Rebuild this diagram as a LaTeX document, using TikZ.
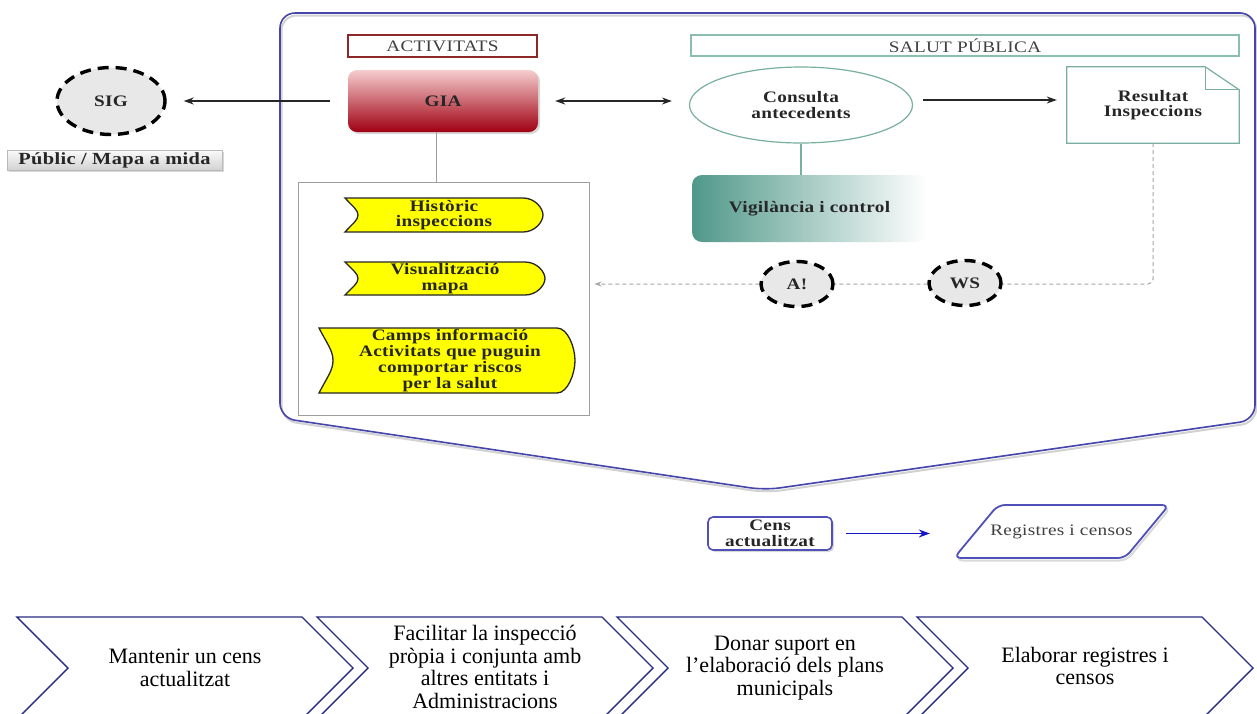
\documentclass[tikz,border=0pt]{standalone}
\usepackage{fontspec}
\setmainfont{Liberation Serif}
\newfontfamily\df{Liberation Serif}[FakeStretch=1.2,LetterSpace=2]
\usetikzlibrary{shapes.geometric,arrows.meta,shadows}
\definecolor{actred}{RGB}{140,40,40}
\definecolor{giatop}{RGB}{245,205,205}
\definecolor{giabot}{RGB}{160,0,18}
\definecolor{salutcol}{RGB}{140,190,175}
\definecolor{conscol}{RGB}{120,175,160}
\definecolor{vigteal}{RGB}{80,152,137}
\definecolor{contblue}{RGB}{70,70,170}
\definecolor{censblue}{RGB}{80,80,185}
\definecolor{arrblue}{RGB}{20,20,200}
\definecolor{chevblue}{RGB}{40,45,130}
\definecolor{ylw}{RGB}{255,255,0}
\newcommand\ysig[6]{%
  \draw[ysty] (#1,#5) -- (#3,#5)
    .. controls ({#3+0.6*(#4-#3)},#5) and (#4,{#5+0.3*(#6-#5)}) .. (#4,{(#5+#6)/2})
    .. controls (#4,{#6-0.3*(#6-#5)}) and ({#3+0.6*(#4-#3)},#6) .. (#3,#6)
    -- (#1,#6)
    .. controls ({#1+0.6*(#2-#1)},{#6-0.25*(#6-#5)}) and (#2,{#6-0.35*(#6-#5)}) .. (#2,{(#5+#6)/2})
    .. controls (#2,{#5+0.35*(#6-#5)}) and ({#1+0.6*(#2-#1)},{#5+0.25*(#6-#5)}) .. (#1,#5) -- cycle;}
\begin{document}
\begin{tikzpicture}[x=1pt,y=-1pt,
  bt/.style={font=\df\bfseries\fontsize{16}{15.5}\selectfont, text=black!85, align=center},
  rt/.style={font=\df\fontsize{16}{15.5}\selectfont, text=black!75, align=center},
  dashell/.style={ellipse, draw=black, line width=3.4pt, dash pattern=on 11pt off 7pt, fill=gray!18, inner sep=0pt, bt},
  conn/.style={draw=black!85, line width=1.3pt, -{Stealth[length=10pt,width=7pt]}},
  ysty/.style={draw=black!85, line width=1.3pt, fill=ylw},
  ct/.style={font=\fontsize{22}{22.5}\selectfont, align=center},
  chev/.style={draw=chevblue, line width=1.4pt, fill=white},
  shd/.style={drop shadow={opacity=0.3, shadow xshift=2pt, shadow yshift=-2pt}}
]
\useasboundingbox (0,0) rectangle (1257,713);
\fill[white] (0,0) rectangle (1257,713);

% container
\draw[gray!35, line width=2pt, rounded corners=15pt, shift={(1.5,2.5)}] (280,13) -- (1255,13) -- (1255,420) -- (765,490) -- (280,418) -- cycle;
\draw[contblue, line width=1.6pt, rounded corners=15pt] (280,13) -- (1255,13) -- (1255,420) -- (765,490) -- (280,418) -- cycle;

% left part
\node[dashell, minimum width=108pt, minimum height=67pt] (sig) at (111,101) {SIG};
\node[bt, font=\df\bfseries\fontsize{17}{17}\selectfont, draw=gray!55, top color=gray!4, bottom color=gray!35, shd, minimum width=215pt, minimum height=20pt, inner sep=0pt] (pub) at (114.5,160) {Públic / Mapa a mida};

% activitats
\node[rt, draw=actred, line width=1.3pt, minimum width=189pt, minimum height=22pt, inner sep=0pt] (act) at (442.5,46) {ACTIVITATS};
\node[bt, rounded corners=9pt, top color=giatop, bottom color=giabot, shd, minimum width=190pt, minimum height=62pt, inner sep=0pt] (gia) at (443,101) {GIA};
\node[draw=gray!75, line width=1pt, minimum width=291pt, minimum height=233pt, inner sep=0pt] (lbox) at (443.5,298.5) {};

\ysig{345}{358}{523}{543}{198}{232}
\node[bt] (his) at (444,215) {Històric\\inspeccions};
\ysig{345}{358}{525}{545}{262}{295}
\node[bt] (vis) at (445,278.5) {Visualització\\mapa};
\ysig{319}{333}{557}{575}{328}{393}
\node[bt, font=\df\bfseries\fontsize{16}{16}\selectfont] (camps) at (450,360.5) {Camps informació\\Activitats que puguin\\comportar riscos\\per la salut};

% salut publica
\node[rt, draw=salutcol, line width=1.2pt, minimum width=548pt, minimum height=21pt, inner sep=0pt] (sal) at (965,45.5) {SALUT PÚBLICA};
\node[bt, ellipse, draw=conscol, line width=1.2pt, fill=white, minimum width=223pt, minimum height=76pt, inner sep=0pt] (cons) at (801,105) {Consulta\\antecedents};
\node[bt, minimum width=172pt, minimum height=76pt, inner sep=0pt] (res) at (1153,105) {Resultat\\Inspeccions};
\draw[conscol, line width=1.2pt] (res.north west) -- ([xshift=-34pt]res.north east) -- ([yshift=-23pt]res.north east) -- (res.south east) -- (res.south west) -- cycle;
\draw[conscol, line width=1.2pt] ([xshift=-34pt]res.north east) |- ([yshift=-23pt]res.north east);
\node[bt, rounded corners=10pt, left color=vigteal, right color=white, minimum width=235pt, minimum height=67pt, inner sep=0pt] (vig) at (809.5,208.5) {Vigilància i control};

% connectors
\draw[conn, shorten <=18pt, shorten >=17pt] (gia.west) -- (sig.east);
\draw[conn, {Stealth[length=10pt,width=7pt]}-{Stealth[length=10pt,width=7pt]}, shorten <=17pt, shorten >=17pt] (gia.east) -- (gia.east -| cons.west);
\draw[conn, shorten <=10pt, shorten >=10pt] ([yshift=5pt]cons.east) -- ([yshift=5pt]cons.east -| res.west);
\draw[gray!75, line width=1pt] ([xshift=-7pt]gia.south) -- ([xshift=-7.5pt]lbox.north);
\draw[conscol, line width=1.2pt] (cons.south) -- (cons.south |- vig.north);
\draw[gray!70, line width=1pt, dash pattern=on 4pt off 3pt, rounded corners=5pt, -{Stealth[length=7pt,width=5pt]}] (res.south) |- ([xshift=5pt,yshift=14.5pt]lbox.east);
\node[dashell, minimum width=72pt, minimum height=45pt] (alert) at (797,284) {A!};
\node[dashell, minimum width=72pt, minimum height=45pt] (ws) at (965,283) {WS};

% cens / registres
\node[bt, rounded corners=5pt, draw=censblue, line width=1.6pt, fill=white, shd, minimum width=124pt, minimum height=33pt, inner sep=0pt] (cens) at (770,533.5) {Cens\\actualitzat};
\draw[gray!30, line width=2pt, rounded corners=7pt, shift={(1.5,2.5)}] (954,558) -- (998,505) -- (1169,505) -- (1125,558) -- cycle;
\draw[censblue, line width=1.8pt, fill=white, rounded corners=7pt] (954,558) -- (998,505) -- (1169,505) -- (1125,558) -- cycle;
\node[rt, minimum width=171pt, inner sep=0pt] (reg) at (1061.5,531.5) {Registres i censos};
\draw[draw=arrblue, line width=1.3pt, -{Stealth[length=11pt,width=8pt]}, shorten <=13pt, shorten >=46pt] (cens.east) -- (cens.east -| reg.west);

% chevrons
\foreach \x in {17,317,617,917}{
  \draw[chev] (\x,617) -- ({\x+285},617) -- ({\x+336},668) -- ({\x+285},719) -- (\x,719) -- ({\x+51},668) -- cycle;
}
\node[ct] (c1) at (185,668) {Mantenir un cens\\actualitzat};
\node[ct] (c2) at (485,667) {Facilitar la inspecció\\pròpia i conjunta amb\\altres entitats i\\Administracions};
\node[ct] (c3) at (785,668) {Donar suport en\\l’elaboració dels plans\\municipals};
\node[ct] (c4) at (1085,666) {Elaborar registres i\\censos};
\end{tikzpicture}
\end{document}
